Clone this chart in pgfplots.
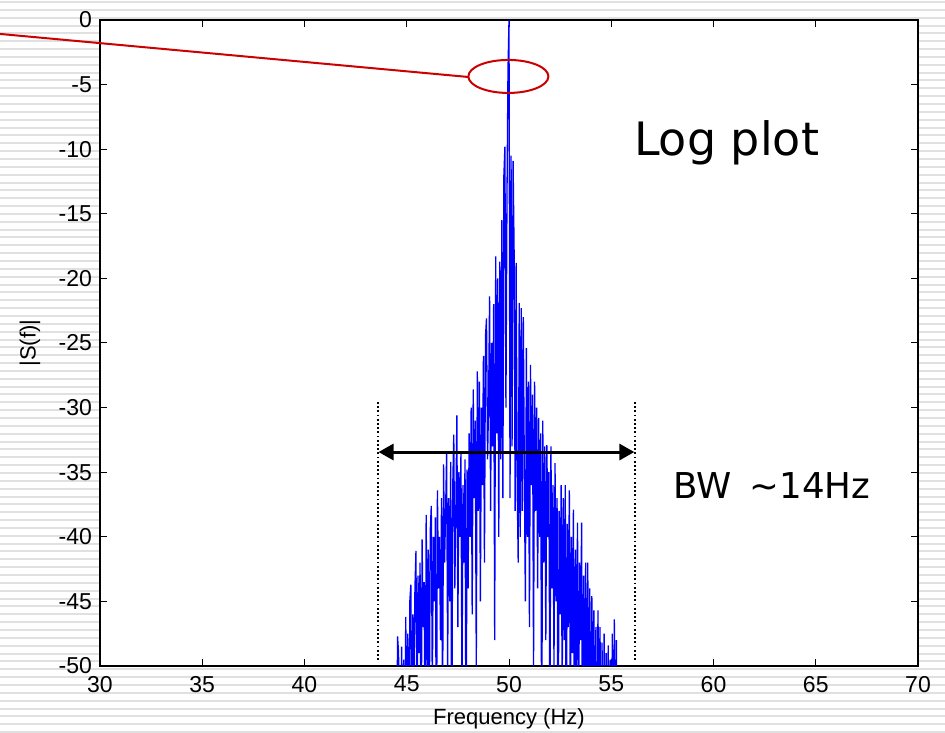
\documentclass[border=0pt]{standalone}
\usepackage{pgfplots}
\pgfplotsset{compat=1.18}
\usepackage{fontspec}
\setmainfont{Liberation Sans}
\newfontfamily\dejavu{DejaVu Sans}
\usetikzlibrary{arrows.meta}
\begin{document}
\begin{tikzpicture}
\useasboundingbox (0pt,0pt) rectangle (472.5pt,366pt);
\fill[white] (0pt,0pt) rectangle (472.5pt,366pt);
\foreach \i in {0,...,93}{
  \pgfmathsetmacro\yy{(732-2-7.85*\i)*0.5}
  \draw[line width=1pt, black!12] (0pt,\yy pt) -- (472.5pt,\yy pt);
}
\begin{axis}[
  at={(50pt,33pt)}, anchor=south west,
  scale only axis, width=409pt, height=323pt,
  xmin=30, xmax=70, ymin=-50, ymax=0,
  xtick={30,35,...,70}, ytick={-50,-45,...,0},
  xtick pos=both, ytick pos=both,
  tick align=inside, major tick length=3.5pt,
  tick style={black, line width=0.5pt},
  axis line style={line width=0.6pt},
  axis background/.style={fill=white},
  clip mode=individual,
  /pgf/number format/assume math mode=true,
  tick label style={font=\fontsize{11.5}{13}\selectfont},
  xticklabel style={yshift=-1.5pt},
  yticklabel style={xshift=-0.5pt},
  label style={font=\fontsize{11}{13}\selectfont},
  xlabel={Frequency (Hz)},
  ylabel={|S(f)|},
  xlabel style={at={(axis description cs:0.5,-0.081)}, anchor=center},
  ylabel style={at={(axis description cs:-0.0856,0.5)}, anchor=center},
]
\addplot[blue, line width=0.65pt] coordinates {
(44.50,-60) (44.55,-47.7) (44.60,-49) (44.65,-62) (44.70,-55) (44.75,-48.5) (44.80,-58) (44.85,-49.5) (44.90,-60) (44.95,-46.2)
(45.00,-55) (45.05,-47.5) (45.10,-62) (45.15,-45) (45.20,-43.7) (45.25,-58) (45.30,-46) (45.35,-52) (45.40,-44) (45.45,-41.1)
(45.50,-56) (45.55,-43) (45.60,-49) (45.65,-42) (45.70,-60) (45.75,-40.2) (45.80,-47) (45.85,-43.5) (45.90,-58) (45.95,-38.3)
(46.00,-50) (46.05,-41) (46.10,-55) (46.15,-39.5) (46.20,-37.6) (46.25,-52) (46.30,-40) (46.35,-45) (46.40,-38.5) (46.45,-60)
(46.50,-36.4) (46.55,-44) (46.60,-40) (46.65,-48) (46.70,-37) (46.75,-55) (46.80,-34.4) (46.85,-42) (46.90,-38) (46.95,-33.5)
(47.00,-50) (47.05,-37) (47.10,-45) (47.15,-34.2) (47.20,-58) (47.25,-36) (47.30,-32.1) (47.35,-44) (47.40,-38) (47.45,-30.6)
(47.50,-47) (47.55,-35) (47.60,-40) (47.65,-33.5) (47.70,-52) (47.75,-36) (47.80,-42) (47.85,-34) (47.90,-60) (47.95,-34.8)
(48.00,-44) (48.05,-32) (48.10,-40) (48.15,-30) (48.20,-46) (48.25,-28.6) (48.30,-37) (48.35,-31) (48.40,-50) (48.45,-27.2)
(48.50,-38) (48.55,-28) (48.60,-45) (48.65,-30) (48.70,-36) (48.75,-26) (48.80,-42) (48.85,-24.5) (48.90,-23.1) (48.95,-34)
(49.00,-30) (49.05,-21.4) (49.10,-38) (49.15,-25) (49.20,-33) (49.25,-22) (49.30,-48) (49.35,-18.3) (49.40,-32) (49.45,-20)
(49.50,-40) (49.55,-18.7) (49.60,-34) (49.65,-15.5) (49.70,-37) (49.75,-12) (49.80,-9.8) (49.85,-30) (49.90,-14) (49.95,-3.9)
(50.00,0) (50.05,-37) (50.10,-10.5) (50.15,-33) (50.20,-10.9) (50.25,-17.9) (50.30,-38) (50.35,-18.8) (50.40,-36) (50.45,-42)
(50.50,-21.9) (50.55,-40) (50.60,-22.3) (50.65,-38) (50.70,-23) (50.75,-35) (50.80,-45) (50.85,-25.4) (50.90,-40) (50.95,-28)
(51.00,-47) (51.05,-26.7) (51.10,-36) (51.15,-29) (51.20,-50) (51.25,-28) (51.30,-38) (51.35,-30) (51.40,-44) (51.45,-30.8)
(51.50,-40) (51.55,-32) (51.60,-58) (51.65,-31) (51.70,-42) (51.75,-33) (51.80,-48) (51.85,-32.9) (51.90,-40) (51.95,-35)
(52.00,-55) (52.05,-33) (52.10,-44) (52.15,-36) (52.20,-50) (52.25,-34.3) (52.30,-45) (52.35,-37) (52.40,-60) (52.45,-38)
(52.50,-46) (52.55,-36) (52.60,-52) (52.65,-37) (52.70,-48) (52.75,-36) (52.80,-58) (52.85,-39) (52.90,-47) (52.95,-36.4)
(53.00,-55) (53.05,-40) (53.10,-49) (53.15,-37.9) (53.20,-60) (53.25,-41) (53.30,-50) (53.35,-38.9) (53.40,-56) (53.45,-42)
(53.50,-48) (53.55,-38.9) (53.60,-62) (53.65,-43) (53.70,-52) (53.75,-42) (53.80,-60) (53.85,-42) (53.90,-55) (53.95,-44)
(54.00,-60) (54.05,-44.6) (54.10,-52) (54.15,-45.7) (54.20,-58) (54.25,-47) (54.30,-62) (54.35,-45.7) (54.40,-55) (54.45,-47)
(54.50,-60) (54.55,-48.2) (54.60,-62) (54.65,-47.5) (54.70,-58) (54.75,-49) (54.80,-62) (54.85,-48.4) (54.90,-56) (54.95,-49.5)
(55.00,-62) (55.05,-47.5) (55.10,-60) (55.15,-46.4) (55.20,-58) (55.25,-48) (55.30,-62) (55.35,-60)
};
% annotations
\draw[black, line width=1pt, dash pattern=on 0.9pt off 1.2pt] (axis cs:43.59,-29.57) -- (axis cs:43.59,-49.54);
\draw[black, line width=1pt, dash pattern=on 0.9pt off 1.2pt] (axis cs:56.16,-29.57) -- (axis cs:56.16,-49.54);
\draw[black, line width=1.5pt, {Triangle[length=7.5pt,width=8pt]}-{Triangle[length=7.5pt,width=8pt]}] (axis cs:43.62,-33.44) -- (axis cs:56.13,-33.44);
\node[anchor=base, inner sep=0pt, font=\dejavu\fontsize{23}{26}\selectfont] at (axis cs:60.64,-10.45) {Log plot};
\node[anchor=base, inner sep=0pt, font=\dejavu\fontsize{17.8}{20}\selectfont] at (axis cs:62.86,-37.07) {BW\hspace{0.5em}\textasciitilde14Hz};
\draw[color={rgb,255:red,204;green,0;blue,0}, line width=1pt] (axis cs:25.11,-1.08) -- (axis cs:48.0,-4.41);
\draw[color={rgb,255:red,204;green,0;blue,0}, line width=1pt] (axis cs:49.97,-4.37) ellipse [x radius=20pt, y radius=8.25pt];
\end{axis}
\end{tikzpicture}
\end{document}
